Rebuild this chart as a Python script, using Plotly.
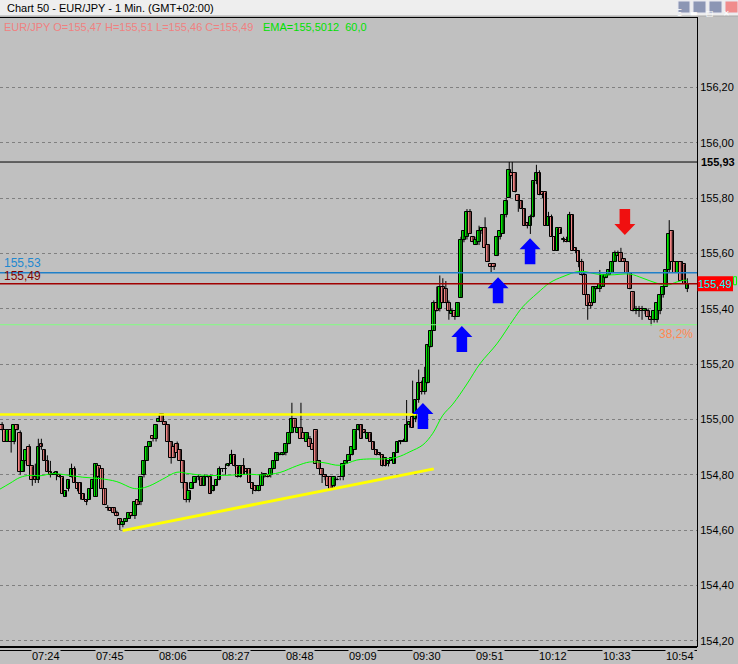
import plotly.graph_objects as go

# ---- values --------------------------------------------------------------
FIRST_BAR = "07:13"  # time of the left-most 1-minute bar

open_ = [
    154.98, 154.96, 154.92, 154.96, 154.92, 154.98, 154.95, 154.81, 154.85, 154.90,
    154.83, 154.79, 154.78, 154.91, 154.89, 154.85, 154.81, 154.80, 154.80, 154.80,
    154.79, 154.72, 154.75, 154.79, 154.82, 154.77, 154.77, 154.73, 154.71, 154.71,
    154.75, 154.72, 154.83, 154.82, 154.75, 154.68, 154.68, 154.68, 154.66, 154.64,
    154.62, 154.63, 154.64, 154.66, 154.65, 154.71, 154.70, 154.80, 154.85, 154.90,
    154.94, 154.93, 154.99, 155.02, 154.99, 154.98, 154.92, 154.90, 154.91, 154.89,
    154.85, 154.77, 154.71, 154.75, 154.77, 154.79, 154.79, 154.76, 154.79, 154.79,
    154.74, 154.76, 154.78, 154.82, 154.82, 154.83, 154.84, 154.87, 154.83, 154.79,
    154.83, 154.82, 154.82, 154.77, 154.76, 154.74, 154.76, 154.80, 154.80, 154.80,
    154.82, 154.85, 154.87, 154.87, 154.88, 154.91, 154.95, 155.00, 154.95, 154.97,
    154.95, 154.92, 154.93, 154.91, 154.96, 154.85, 154.82, 154.80, 154.79, 154.79,
    154.76, 154.78, 154.79, 154.79, 154.84, 154.85, 154.87, 154.89, 154.96, 154.98,
    154.96, 154.93, 154.95, 154.92, 154.89, 154.88, 154.87, 154.86, 154.84, 154.85,
    154.84, 154.88, 154.92, 154.92, 154.92, 154.98, 155.01, 155.00, 155.07, 155.13,
    155.10, 155.13, 155.26, 155.32, 155.42, 155.40, 155.48, 155.47, 155.42, 155.38,
    155.39, 155.37, 155.44, 155.65, 155.66, 155.75, 155.66, 155.63, 155.64, 155.68,
    155.69, 155.63, 155.56, 155.56, 155.59, 155.66, 155.67, 155.74, 155.80, 155.89,
    155.89, 155.81, 155.79, 155.76, 155.71, 155.70, 155.73, 155.86, 155.89, 155.82,
    155.82, 155.70, 155.73, 155.66, 155.61, 155.69, 155.65, 155.65, 155.64, 155.74,
    155.62, 155.61, 155.57, 155.52, 155.45, 155.42, 155.42, 155.47, 155.47, 155.48,
    155.51, 155.52, 155.53, 155.57, 155.59, 155.60, 155.58, 155.57, 155.53, 155.46,
    155.39, 155.39, 155.40, 155.39, 155.39, 155.37, 155.36, 155.36, 155.39, 155.45,
    155.48, 155.54, 155.68, 155.57, 155.53, 155.57, 155.56, 155.47,
]
high = [
    154.99, 154.96, 154.96, 154.96, 154.98, 154.98, 154.96, 154.85, 154.89, 154.91,
    154.83, 154.84, 154.93, 154.93, 154.89, 154.87, 154.85, 154.81, 154.81, 154.80,
    154.79, 154.74, 154.78, 154.84, 154.83, 154.77, 154.77, 154.73, 154.71, 154.75,
    154.78, 154.84, 154.83, 154.82, 154.75, 154.69, 154.68, 154.68, 154.67, 154.64,
    154.63, 154.64, 154.66, 154.66, 154.70, 154.71, 154.79, 154.85, 154.90, 154.92,
    154.94, 154.98, 155.02, 155.02, 154.99, 154.98, 154.92, 154.91, 154.92, 154.89,
    154.85, 154.77, 154.74, 154.77, 154.79, 154.80, 154.79, 154.80, 154.80, 154.80,
    154.76, 154.78, 154.83, 154.82, 154.84, 154.84, 154.89, 154.87, 154.83, 154.83,
    154.86, 154.82, 154.82, 154.77, 154.76, 154.76, 154.81, 154.80, 154.80, 154.82,
    154.85, 154.88, 154.88, 154.88, 154.91, 154.95, 155.06, 155.00, 154.97, 155.06,
    154.95, 154.95, 154.94, 154.91, 154.96, 154.85, 154.82, 154.80, 154.79, 154.79,
    154.79, 154.79, 154.79, 154.84, 154.85, 154.87, 154.90, 154.96, 154.98, 154.98,
    154.96, 154.95, 154.95, 154.92, 154.89, 154.88, 154.87, 154.86, 154.85, 154.86,
    154.88, 154.92, 154.92, 154.93, 155.07, 154.99, 155.14, 155.07, 155.18, 155.14,
    155.19, 155.27, 155.32, 155.43, 155.48, 155.52, 155.51, 155.50, 155.43, 155.40,
    155.39, 155.42, 155.66, 155.68, 155.76, 155.76, 155.66, 155.66, 155.70, 155.69,
    155.73, 155.63, 155.56, 155.56, 155.66, 155.68, 155.74, 155.80, 155.93, 155.93,
    155.89, 155.81, 155.79, 155.76, 155.71, 155.74, 155.86, 155.92, 155.90, 155.82,
    155.82, 155.75, 155.74, 155.66, 155.69, 155.69, 155.66, 155.66, 155.75, 155.74,
    155.62, 155.61, 155.58, 155.53, 155.45, 155.42, 155.48, 155.48, 155.54, 155.52,
    155.52, 155.54, 155.57, 155.61, 155.61, 155.62, 155.58, 155.57, 155.53, 155.46,
    155.41, 155.41, 155.41, 155.40, 155.40, 155.37, 155.39, 155.42, 155.45, 155.48,
    155.54, 155.72, 155.68, 155.57, 155.57, 155.57, 155.56, 155.51,
]
low = [
    154.96, 154.92, 154.92, 154.88, 154.91, 154.96, 154.80, 154.81, 154.84, 154.83,
    154.76, 154.77, 154.77, 154.89, 154.85, 154.81, 154.79, 154.80, 154.78, 154.79,
    154.73, 154.72, 154.74, 154.79, 154.77, 154.74, 154.71, 154.71, 154.69, 154.71,
    154.75, 154.72, 154.79, 154.75, 154.69, 154.67, 154.67, 154.66, 154.65, 154.60,
    154.61, 154.63, 154.64, 154.65, 154.64, 154.69, 154.69, 154.79, 154.85, 154.90,
    154.92, 154.92, 154.99, 154.99, 154.98, 154.92, 154.84, 154.86, 154.88, 154.85,
    154.75, 154.70, 154.70, 154.75, 154.77, 154.78, 154.76, 154.76, 154.79, 154.73,
    154.74, 154.76, 154.78, 154.81, 154.80, 154.83, 154.84, 154.83, 154.79, 154.79,
    154.80, 154.80, 154.77, 154.73, 154.74, 154.74, 154.76, 154.79, 154.79, 154.79,
    154.82, 154.85, 154.87, 154.87, 154.87, 154.91, 154.95, 154.97, 154.95, 154.93,
    154.93, 154.92, 154.90, 154.89, 154.84, 154.82, 154.77, 154.78, 154.76, 154.75,
    154.75, 154.78, 154.78, 154.78, 154.84, 154.85, 154.87, 154.89, 154.96, 154.93,
    154.95, 154.93, 154.92, 154.89, 154.87, 154.87, 154.83, 154.83, 154.83, 154.85,
    154.84, 154.88, 154.91, 154.92, 154.92, 154.97, 154.97, 154.99, 155.06, 155.09,
    155.09, 155.13, 155.26, 155.32, 155.39, 155.39, 155.42, 155.42, 155.36, 155.37,
    155.36, 155.37, 155.44, 155.64, 155.65, 155.67, 155.64, 155.63, 155.63, 155.67,
    155.62, 155.57, 155.53, 155.54, 155.59, 155.65, 155.67, 155.73, 155.80, 155.87,
    155.82, 155.75, 155.76, 155.70, 155.69, 155.67, 155.73, 155.85, 155.81, 155.80,
    155.70, 155.70, 155.66, 155.61, 155.61, 155.67, 155.64, 155.64, 155.64, 155.61,
    155.60, 155.55, 155.52, 155.45, 155.36, 155.40, 155.42, 155.47, 155.46, 155.48,
    155.51, 155.52, 155.53, 155.57, 155.59, 155.57, 155.57, 155.53, 155.47, 155.39,
    155.38, 155.37, 155.36, 155.38, 155.37, 155.34, 155.35, 155.35, 155.38, 155.44,
    155.48, 155.53, 155.57, 155.53, 155.53, 155.50, 155.49, 155.46,
]
close = [
    154.96, 154.92, 154.96, 154.92, 154.98, 154.96, 154.81, 154.85, 154.89, 154.83,
    154.78, 154.78, 154.90, 154.90, 154.85, 154.81, 154.80, 154.80, 154.81, 154.79,
    154.73, 154.74, 154.78, 154.82, 154.77, 154.75, 154.73, 154.71, 154.70, 154.75,
    154.78, 154.84, 154.79, 154.75, 154.69, 154.68, 154.67, 154.66, 154.65, 154.62,
    154.63, 154.64, 154.66, 154.65, 154.70, 154.69, 154.79, 154.85, 154.90, 154.92,
    154.93, 154.98, 155.00, 154.99, 154.98, 154.92, 154.86, 154.86, 154.88, 154.85,
    154.77, 154.71, 154.74, 154.77, 154.79, 154.79, 154.76, 154.79, 154.79, 154.73,
    154.76, 154.78, 154.82, 154.82, 154.82, 154.84, 154.87, 154.83, 154.79, 154.83,
    154.80, 154.81, 154.77, 154.75, 154.74, 154.76, 154.80, 154.80, 154.79, 154.82,
    154.85, 154.88, 154.87, 154.88, 154.91, 154.95, 155.00, 154.97, 154.97, 154.93,
    154.93, 154.95, 154.90, 154.89, 154.84, 154.82, 154.80, 154.79, 154.76, 154.75,
    154.79, 154.78, 154.79, 154.84, 154.85, 154.87, 154.90, 154.96, 154.98, 154.93,
    154.95, 154.95, 154.92, 154.89, 154.87, 154.87, 154.83, 154.83, 154.85, 154.86,
    154.88, 154.92, 154.92, 154.92, 154.98, 154.99, 154.97, 155.07, 155.13, 155.10,
    155.15, 155.27, 155.32, 155.42, 155.39, 155.48, 155.42, 155.42, 155.39, 155.39,
    155.37, 155.42, 155.65, 155.68, 155.75, 155.67, 155.64, 155.65, 155.68, 155.69,
    155.62, 155.57, 155.55, 155.55, 155.66, 155.68, 155.74, 155.79, 155.90, 155.88,
    155.82, 155.79, 155.76, 155.70, 155.70, 155.73, 155.86, 155.89, 155.81, 155.81,
    155.70, 155.73, 155.66, 155.61, 155.69, 155.67, 155.65, 155.64, 155.74, 155.61,
    155.61, 155.57, 155.52, 155.45, 155.41, 155.41, 155.48, 155.48, 155.49, 155.52,
    155.52, 155.54, 155.57, 155.60, 155.60, 155.57, 155.57, 155.53, 155.47, 155.39,
    155.40, 155.40, 155.39, 155.40, 155.37, 155.36, 155.39, 155.42, 155.45, 155.48,
    155.54, 155.67, 155.57, 155.53, 155.57, 155.50, 155.49, 155.49,
]

# EMA(60) as drawn on the chart (bar position, value)
ema_bar = [
    -0.7, 2.6, 5.9, 9.2, 12.5, 16.8, 21.4, 26.7, 32.4, 38.0,
    43.3, 45.6, 48.9, 53.2, 57.9, 61.2, 65.5, 71.1, 76.4, 82.1,
    86.4, 92.0, 97.6, 101.9, 106.3, 111.9, 117.5, 121.8, 126.1, 130.8,
    135.1, 139.4, 142.7, 146.0, 149.3, 154.0, 158.3, 163.9, 169.2, 172.5,
    177.2, 181.5, 185.8, 191.4, 197.1, 201.4, 208.0, 212.3, 216.9, 220.3,
    223.6, 226.2, 227.0,
]
ema_val = [
    154.748, 154.769, 154.790, 154.798, 154.796, 154.804, 154.799, 154.791, 154.786, 154.775,
    154.751, 154.750, 154.760, 154.784, 154.809, 154.805, 154.799, 154.797, 154.799, 154.802,
    154.799, 154.808, 154.832, 154.846, 154.844, 154.834, 154.853, 154.857, 154.857, 154.863,
    154.883, 154.908, 154.950, 155.015, 155.055, 155.128, 155.201, 155.273, 155.358, 155.407,
    155.455, 155.494, 155.516, 155.535, 155.525, 155.522, 155.525, 155.510, 155.492, 155.485,
    155.497, 155.503, 155.501,
]
ema_text = "EMA=155,5012  60,0"

time_labels = ["07:24", "07:45", "08:06", "08:27", "08:48", "09:09",
               "09:30", "09:51", "10:12", "10:33", "10:54"]
price_ticks = [154.2, 154.4, 154.6, 154.8, 155.0, 155.2,
               155.4, 155.6, 155.8, 156.0, 156.2]

high_level = 155.93
blue_level = 155.53
red_level = 155.49
fib_level = 155.342
fib_text = "38,2%"
yellow_level = 155.018
yellow_end_bar = 137.3
trend_bar = [39.9, 143.0]
trend_price = [154.598, 154.821]

up_arrow_bar = [139.4, 152.3, 164.3, 174.9]
up_arrow_tip = [155.059, 155.337, 155.514, 155.655]
down_arrow_bar = [206.3]
down_arrow_tip = [155.666]

# ---- page geometry --------------------------------------------------------
W, H = 738, 664
ML, MR, MT, MB = 0, 41, 18, 18
PW, PH = W - ML - MR, H - MT - MB
XR = [-0.7, 230.2]
YR = [154.181, 156.4505]
PX_BAR = PW / (XR[1] - XR[0])
PX_PRICE = PH / (YR[1] - YR[0])

BG = "#C0C0C0"
UP_COL, DN_COL = "#00E400", "#F28484"
FONT = "Liberation Sans"


def px_x(x):  # pixel column -> paper x
    return (x - ML) / PW


def px_y(y):  # pixel row -> paper y
    return (H - MB - y) / PH


def to_min(t):
    h, m = t.split(":")
    return int(h) * 60 + int(m)


def fmt(v):
    return f"{v:.2f}".replace(".", ",")


def arrow_path(b, tip, up=True):
    hw, sw = 10.5 / PX_BAR, 5.3 / PX_BAR
    hh, sl = 11 / PX_PRICE, 15 / PX_PRICE
    s = -1 if up else 1
    pts = [(b, tip), (b + hw, tip + s * hh), (b + sw, tip + s * hh),
           (b + sw, tip + s * (hh + sl)), (b - sw, tip + s * (hh + sl)),
           (b - sw, tip + s * hh), (b - hw, tip + s * hh)]
    return "M " + " L ".join(f"{x},{y}" for x, y in pts) + " Z"


bars = list(range(len(close)))
tick_bars = [to_min(t) - to_min(FIRST_BAR) for t in time_labels]

# candles: wicks as one broken line, bodies as overlapping bars
wick_x, wick_y = [], []
for i, h, l in zip(bars, high, low):
    wick_x += [i, i, None]
    wick_y += [l, h, None]
body_base = [min(o, c) for o, c in zip(open_, close)]
body_len = [max(abs(c - o), 0.0015) for o, c in zip(open_, close)]
body_col = [UP_COL if c >= o else DN_COL for o, c in zip(open_, close)]

fig = go.Figure()
fig.add_trace(go.Scatter(x=wick_x, y=wick_y, mode="lines", line=dict(color="black", width=1),
                         hoverinfo="skip", showlegend=False))
fig.add_trace(go.Bar(x=bars, y=body_len, base=body_base, width=1.2,
                     marker=dict(color=body_col, line=dict(color="black", width=1)),
                     hoverinfo="skip", showlegend=False))
fig.add_trace(go.Scatter(x=ema_bar, y=ema_val, mode="lines", line_shape="spline",
                         line=dict(color="#00FF00", width=1), hoverinfo="skip", showlegend=False))

shapes = []

# horizontal levels
for lvl, col, wd in [(high_level, "black", 1), (blue_level, "#2080C8", 1.5),
                     (red_level, "#A00000", 1.5), (fib_level, "#80FF80", 1)]:
    shapes.append(dict(type="line", xref="paper", x0=0, x1=1, yref="y", y0=lvl, y1=lvl,
                       line=dict(color=col, width=wd)))

# yellow resistance and trend line
shapes.append(dict(type="line", xref="x", x0=XR[0], x1=yellow_end_bar, yref="y",
                   y0=yellow_level, y1=yellow_level, line=dict(color="#FFFF00", width=2.5)))
shapes.append(dict(type="line", xref="x", x0=trend_bar[0], x1=trend_bar[1], yref="y",
                   y0=trend_price[0], y1=trend_price[1], line=dict(color="#FFFF00", width=3)))

# arrows
for b, t in zip(up_arrow_bar, up_arrow_tip):
    shapes.append(dict(type="path", path=arrow_path(b, t, True), xref="x", yref="y",
                       fillcolor="#0000FF", line=dict(width=0)))
for b, t in zip(down_arrow_bar, down_arrow_tip):
    shapes.append(dict(type="path", path=arrow_path(b, t, False), xref="x", yref="y",
                       fillcolor="#F01010", line=dict(width=0)))

# window title bar and buttons
shapes.append(dict(type="rect", xref="paper", yref="paper", x0=px_x(0), x1=px_x(W),
                   y0=px_y(16), y1=px_y(0), fillcolor="#EEEEEE", line=dict(width=0), layer="above"))
shapes.append(dict(type="line", xref="paper", yref="paper", x0=px_x(0), x1=px_x(W),
                   y0=px_y(16), y1=px_y(16), line=dict(color="#A8A8A8", width=1)))
for x0, x1, col in [(678, 690, "#8C96B4"), (693, 706, "#8C96B4"),
                    (709, 722, "#8C96B4"), (725, 738, "#F08C8C")]:
    shapes.append(dict(type="rect", xref="paper", yref="paper", x0=px_x(x0), x1=px_x(x1),
                       y0=px_y(13), y1=px_y(1), fillcolor=col,
                       line=dict(color="#E8E8F0", width=1)))

# current price box on the price scale
shapes.append(dict(type="rect", xref="paper", yref="y", x0=px_x(697.5), x1=px_x(733),
                   y0=close[-1] - 7.5 / PX_PRICE, y1=close[-1] + 7.5 / PX_PRICE,
                   fillcolor="#FF0000", line=dict(width=0)))
shapes.append(dict(type="rect", xref="paper", yref="y", x0=px_x(733.5), x1=px_x(736.5),
                   y0=ema_val[-1] - 4 / PX_PRICE, y1=ema_val[-1] + 4 / PX_PRICE,
                   line=dict(color="#00FF00", width=1)))

# time axis rules
for yy in [647.5, 650.5]:
    shapes.append(dict(type="line", xref="paper", yref="paper", x0=px_x(0), x1=px_x(697),
                       y0=px_y(yy), y1=px_y(yy), line=dict(color="black", width=1)))

annotations = []
annotations.append(dict(xref="paper", yref="paper", x=px_x(5), y=px_y(8), xanchor="left",
                        yanchor="middle", showarrow=False,
                        text="Chart 50 - EUR/JPY - 1 Min. (GMT+02:00)",
                        font=dict(family=FONT, size=11, color="black")))
for x, glyph in [(684, "Ξ"), (699.5, "▬"), (715.5, "□"), (731.5, "✕")]:
    annotations.append(dict(xref="paper", yref="paper", x=px_x(x), y=px_y(7), showarrow=False,
                            text=glyph, font=dict(family="DejaVu Sans", size=8, color="white")))

header = (f"EUR/JPY O={fmt(open_[-1])} H={fmt(high[-1])} "
          f"L={fmt(low[-1])} C={fmt(close[-1])}")
annotations.append(dict(xref="paper", yref="paper", x=px_x(2), y=px_y(27), xanchor="left",
                        yanchor="middle", showarrow=False, text=header,
                        font=dict(family=FONT, size=11, color="#F08080")))
annotations.append(dict(xref="paper", yref="paper", x=px_x(261), y=px_y(27), xanchor="left",
                        yanchor="middle", showarrow=False, text=ema_text,
                        font=dict(family=FONT, size=11, color="#00E000")))

annotations.append(dict(xref="paper", yref="y", x=px_x(2), y=blue_level, xanchor="left",
                        yanchor="bottom", yshift=1, showarrow=False, text=fmt(blue_level),
                        font=dict(family=FONT, size=12, color="#1E88D0")))
annotations.append(dict(xref="paper", yref="y", x=px_x(2), y=red_level, xanchor="left",
                        yanchor="bottom", yshift=-1, showarrow=False, text=fmt(red_level),
                        font=dict(family=FONT, size=12, color="#800000")))
annotations.append(dict(xref="paper", yref="y", x=px_x(695), y=fib_level, xanchor="right",
                        yanchor="top", showarrow=False, text=fib_text,
                        font=dict(family=FONT, size=12, color="#FF8850")))
annotations.append(dict(xref="paper", yref="y", x=px_x(699), y=high_level, xanchor="left",
                        yanchor="middle", showarrow=False, text="<b>" + fmt(high_level) + "</b>",
                        font=dict(family=FONT, size=11, color="black")))
annotations.append(dict(xref="paper", yref="y", x=px_x(715.2), y=close[-1], xanchor="center",
                        yanchor="middle", showarrow=False, text=fmt(close[-1]),
                        font=dict(family=FONT, size=11, color="#00FFFF")))

for b, t in zip(tick_bars, time_labels):
    annotations.append(dict(xref="x", yref="paper", x=b, y=px_y(649), xanchor="left",
                            yanchor="top", xshift=-4, showarrow=False, text=t, bgcolor=BG,
                            borderpad=0, font=dict(family=FONT, size=11, color="black")))

fig.update_layout(
    width=W, height=H,
    margin=dict(l=ML, r=MR, t=MT, b=MB),
    paper_bgcolor=BG, plot_bgcolor=BG,
    separators=",.",
    showlegend=False,
    bargap=0,
    shapes=shapes,
    annotations=annotations,
    xaxis=dict(range=XR, showgrid=False, zeroline=False, showticklabels=False, ticks="",
               showline=True, linecolor="black", linewidth=1, mirror=True,
               automargin=False, fixedrange=True),
    yaxis=dict(range=YR, side="right", tickvals=price_ticks, tickformat=".2f",
               showgrid=True, gridcolor="#808080", griddash="3px,3px", gridwidth=1,
               zeroline=False, showline=True, linecolor="black", linewidth=1, ticks="",
               tickfont=dict(family=FONT, size=11, color="black"), automargin=False,
               fixedrange=True),
)

fig.write_html("out.html", config={"displayModeBar": False},
               post_script="document.body.style.margin='0';")
